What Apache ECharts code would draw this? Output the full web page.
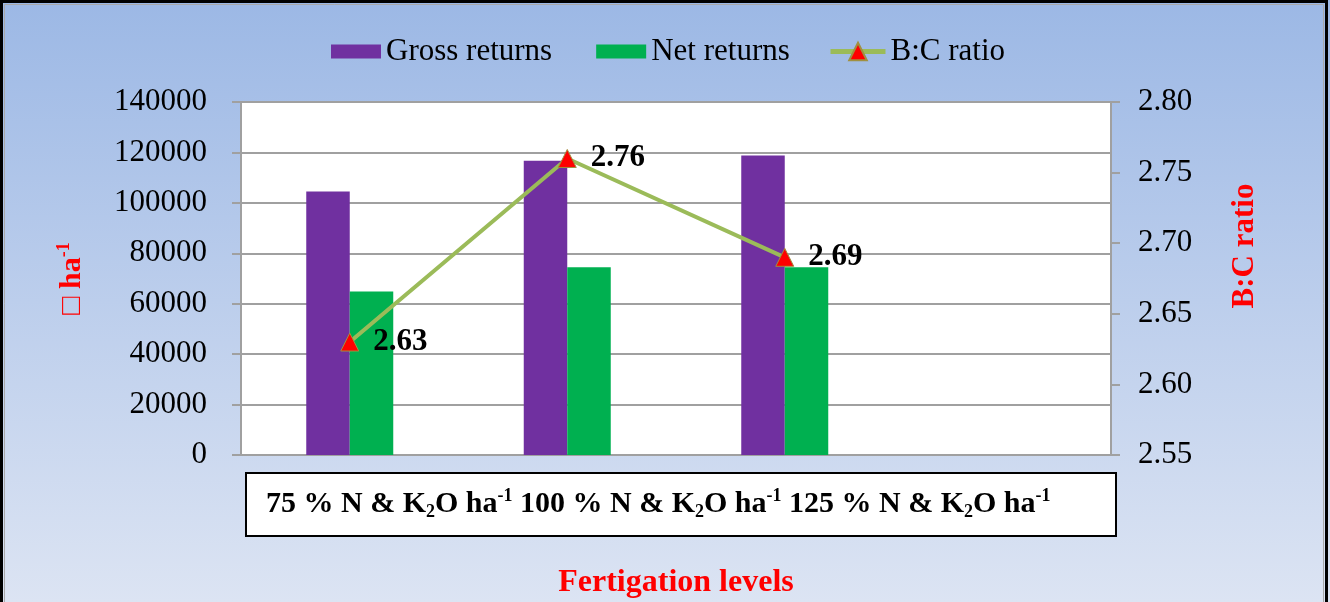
<!DOCTYPE html>
<html>
<head>
<meta charset="utf-8">
<script src="https://cdn.jsdelivr.net/npm/echarts@6/dist/echarts.min.js"></script>
<style>
  html, body { margin: 0; padding: 0; background: #fff; }
  #chart { width: 1330px; height: 602px; }
</style>
</head>
<body>
<div id="chart"></div>
<script>
  // data
  const categories = ['75 % N & K2O ha-1', '100 % N & K2O ha-1', '125 % N & K2O ha-1', '']
  const grossReturns = [104500, 116700, 118800, '-']
  const netReturns = [64800, 74500, 74500, '-']
  const bcRatio = [2.63, 2.76, 2.69, '-']
  const boxLabels = ['75', '100', '125']

  const serif = '"Liberation Serif", "DejaVu Serif", serif'

  // the white label box under the axis, with K2O subscript and ha-1 superscript
  const boxText = boxLabels.map(p => p + ' % N & K{sub|2}O ha{sup|-1}').join(' ')

  const chart = echarts.init(document.getElementById('chart'))
  chart.setOption({
    animation: false,
    backgroundColor: {
      type: 'linear', x: 0, y: 0, x2: 0, y2: 1,
      colorStops: [
        { offset: 0, color: '#9cb8e5' },
        { offset: 1, color: '#dce4f3' }
      ]
    },
    textStyle: { fontFamily: serif },
    legend: [{
      top: 31,
      left: 326,
      itemWidth: 50,
      itemHeight: 14,
      itemGap: 44,
      textStyle: { fontFamily: serif, fontSize: 31, color: '#000' },
      data: [
        { name: 'Gross returns', icon: 'rect' },
        { name: 'Net returns', icon: 'rect' }
      ]
    }, {
      top: 31,
      left: 823,
      itemWidth: 55,
      itemHeight: 22,
      textStyle: { fontFamily: serif, fontSize: 31, color: '#000' },
      data: [{ name: 'B:C ratio', lineStyle: { width: 5 } }]
    }],
    grid: {
      left: 241, right: 219, top: 102, bottom: 147,
      outerBoundsMode: 'none',
      containLabel: false,
      show: true, backgroundColor: '#fff', borderWidth: 0
    },
    xAxis: {
      type: 'category',
      data: categories,
      name: 'Fertigation levels',
      nameLocation: 'middle',
      nameGap: 112,
      nameTextStyle: { fontFamily: serif, fontSize: 32, fontWeight: 'bold', color: '#ff0000' },
      axisLine: { lineStyle: { color: '#a0a0a0', width: 2 } },
      axisTick: { show: false },
      axisLabel: { show: false }
    },
    yAxis: [{
      type: 'value',
      min: 0, max: 140000, interval: 20000,
      position: 'left',
      name: '□ ha{sup|-1}',
      nameLocation: 'middle',
      nameRotate: 90,
      nameGap: 152,
      nameTextStyle: {
        fontFamily: serif, fontSize: 30, fontWeight: 'bold', color: '#ff0000',
        lineHeight: 34,
        rich: {
          sup: { fontFamily: serif, fontSize: 18, fontWeight: 'bold', color: '#ff0000', verticalAlign: 'top', lineHeight: 34 }
        }
      },
      axisLine: { show: true, lineStyle: { color: '#a0a0a0', width: 2 } },
      axisTick: { show: true, inside: false, length: 9, lineStyle: { color: '#a0a0a0', width: 2 } },
      axisLabel: { margin: 34, fontFamily: serif, fontSize: 31, color: '#000', formatter: v => String(v) },
      splitLine: { lineStyle: { color: '#a0a0a0', width: 2 } }
    }, {
      type: 'value',
      min: 2.55, max: 2.80, interval: 0.05,
      position: 'right',
      axisLine: { show: true, lineStyle: { color: '#a0a0a0', width: 2 } },
      axisTick: { show: true, inside: false, length: 9, lineStyle: { color: '#a0a0a0', width: 2 } },
      axisLabel: {
        margin: 27, fontFamily: serif, fontSize: 31, color: '#000',
        formatter: v => v.toFixed(2)
      },
      splitLine: { show: false }
    }],
    series: [{
      name: 'Gross returns',
      type: 'bar',
      barWidth: '20%',
      barGap: '0%',
      itemStyle: { color: '#7030a0' },
      data: grossReturns
    }, {
      name: 'Net returns',
      type: 'bar',
      barWidth: '20%',
      barGap: '0%',
      itemStyle: { color: '#00b050' },
      data: netReturns
    }, {
      name: 'B:C ratio',
      type: 'line',
      yAxisIndex: 1,
      symbol: 'triangle',
      symbolSize: 18,
      z: 5,
      lineStyle: { color: '#9bbb59', width: 4 },
      itemStyle: { color: '#ff0000', borderColor: '#a09040', borderWidth: 1 },
      label: {
        show: true,
        position: 'right',
        distance: 14,
        fontFamily: serif,
        fontSize: 31,
        fontWeight: 'bold',
        color: '#000',
        formatter: p => p.value.toFixed(2)
      },
      data: bcRatio
    }],
    graphic: [{
      type: 'rect',
      shape: { x: 1.5, y: 1.5, width: 1325, height: 640 },
      style: { fill: 'none', stroke: '#000', lineWidth: 3 },
      silent: true
    }, {
      type: 'rect',
      shape: { x: 4.5, y: 4.5, width: 1319, height: 640 },
      style: { fill: 'none', stroke: '#a8a8a8', lineWidth: 1 },
      silent: true
    }, {
      type: 'rect',
      shape: { x: 246, y: 473, width: 870, height: 63 },
      style: { fill: '#fff', stroke: '#000', lineWidth: 2 },
      z: 10
    }, {
      type: 'text',
      x: 266, y: 504,
      z: 11,
      style: {
        text: boxText,
        font: 'bold 30px ' + serif,
        fill: '#000',
        verticalAlign: 'middle',
        lineHeight: 34,
        rich: {
          sub: { font: 'bold 18px ' + serif, fill: '#000', verticalAlign: 'bottom', lineHeight: 34 },
          sup: { font: 'bold 18px ' + serif, fill: '#000', verticalAlign: 'top', lineHeight: 34 }
        }
      }
    }, {
      type: 'text',
      x: 1245, y: 246,
      rotation: Math.PI / 2,
      style: {
        text: 'B:C ratio',
        font: 'bold 31px ' + serif,
        fill: '#ff0000',
        align: 'center',
        verticalAlign: 'middle'
      }
    }]
  })
</script>
</body>
</html>
